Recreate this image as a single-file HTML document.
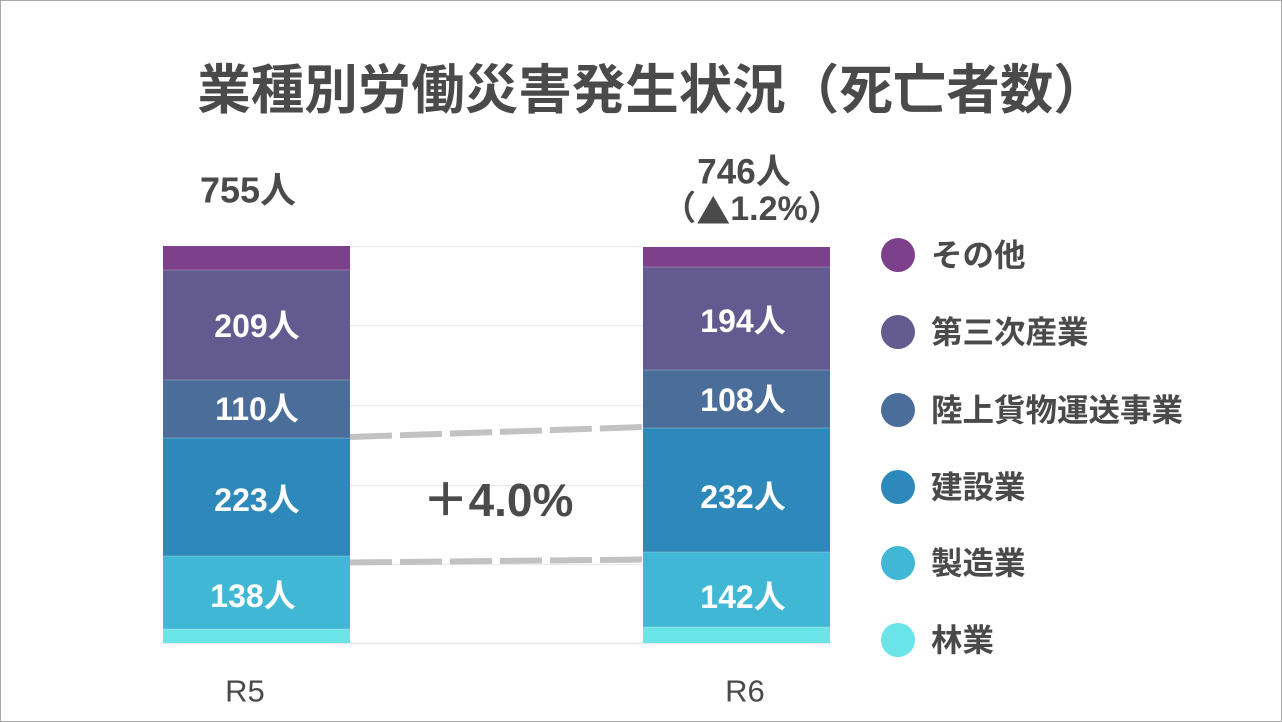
<!DOCTYPE html>
<html>
<head>
<meta charset="utf-8">
<style>
  html, body { margin:0; padding:0; background:#fff; }
  body { width:1282px; height:722px; overflow:hidden; }
  svg { display:block; }
  text { font-family: "Liberation Sans", "Noto Sans CJK JP", sans-serif; }
</style>
</head>
<body>
<svg width="1282" height="722" viewBox="0 0 1282 722" xmlns="http://www.w3.org/2000/svg">
  <rect x="0.5" y="0.5" width="1281" height="721" fill="#fff" stroke="#a8a8a8" stroke-width="1"/>

  <!-- Title -->
  <text x="652" y="91" text-anchor="middle" dominant-baseline="central" font-size="53.5" font-weight="bold" fill="#4a4a4a" font-family="Noto Sans CJK JP, sans-serif">業種別労働災害発生状況（死亡者数）</text>

  <!-- Totals -->
  <text x="248" y="190" text-anchor="middle" dominant-baseline="central" font-size="36" font-weight="bold" fill="#4a4a4a">755人</text>
  <text x="744" y="172" text-anchor="middle" dominant-baseline="central" font-size="35" font-weight="bold" fill="#4a4a4a">746人</text>
  <text x="752" y="209" text-anchor="middle" dominant-baseline="central" font-size="34" font-weight="bold" fill="#4a4a4a">（<tspan font-family="Noto Sans CJK JP, sans-serif">▲</tspan>1.2%）</text>

  <!-- gridlines -->
  <g stroke="#ebebeb" stroke-width="1.2">
    <line x1="350" y1="246.5" x2="643" y2="246.5"/>
    <line x1="350" y1="325.5" x2="643" y2="325.5"/>
    <line x1="350" y1="405.5" x2="643" y2="405.5"/>
    <line x1="350" y1="485.5" x2="643" y2="485.5"/>
    <line x1="350" y1="564.5" x2="643" y2="564.5"/>
    <line x1="163" y1="643.5" x2="830" y2="643.5" stroke="#eaeaea" stroke-width="2"/>
  </g>

  <!-- Left bar R5 -->
  <rect x="163" y="246" width="187" height="24" fill="#7c418a"/>
  <rect x="163" y="270" width="187" height="110" fill="#635a8f"/>
  <rect x="163" y="380" width="187" height="58" fill="#4b6d99"/>
  <rect x="163" y="438" width="187" height="118" fill="#2c89b9"/>
  <rect x="163" y="556" width="187" height="73" fill="#41b7d6"/>
  <rect x="163" y="629" width="187" height="14" fill="#6ae4e6"/>

  <!-- Right bar R6 -->
  <rect x="643" y="247" width="187" height="20" fill="#7c418a"/>
  <rect x="643" y="267" width="187" height="103" fill="#635a8f"/>
  <rect x="643" y="370" width="187" height="58" fill="#4b6d99"/>
  <rect x="643" y="428" width="187" height="124" fill="#2c89b9"/>
  <rect x="643" y="552" width="187" height="75" fill="#41b7d6"/>
  <rect x="643" y="627" width="187" height="16" fill="#6ae4e6"/>

  <!-- separators -->
  <g stroke="#ffffff" stroke-opacity="0.25" stroke-width="1">
    <line x1="163" y1="270" x2="350" y2="270"/>
    <line x1="163" y1="380" x2="350" y2="380"/>
    <line x1="163" y1="438" x2="350" y2="438"/>
    <line x1="163" y1="556" x2="350" y2="556"/>
    <line x1="163" y1="629" x2="350" y2="629"/>
    <line x1="643" y1="267" x2="830" y2="267"/>
    <line x1="643" y1="370" x2="830" y2="370"/>
    <line x1="643" y1="428" x2="830" y2="428"/>
    <line x1="643" y1="552" x2="830" y2="552"/>
    <line x1="643" y1="627" x2="830" y2="627"/>
  </g>

  <!-- dashed connectors -->
  <g stroke="#c2c2c2" stroke-width="6" stroke-dasharray="42 8">
    <line x1="350" y1="437" x2="643" y2="427"/>
    <line x1="350" y1="562.5" x2="643" y2="559.5"/>
  </g>

  <!-- bar labels -->
  <g font-size="32" font-weight="bold" fill="#ffffff" text-anchor="middle" dominant-baseline="central">
    <text x="257" y="326">209人</text>
    <text x="257" y="409">110人</text>
    <text x="257" y="500">223人</text>
    <text x="253" y="596">138人</text>
    <text x="743" y="321">194人</text>
    <text x="743" y="400">108人</text>
    <text x="743" y="497">232人</text>
    <text x="743" y="597">142人</text>
  </g>

  <!-- change label -->
  <text x="498" y="500" text-anchor="middle" dominant-baseline="central" font-size="46" font-weight="bold" fill="#4a4a4a">＋4.0%</text>

  <!-- x labels -->
  <text x="245" y="691" text-anchor="middle" dominant-baseline="central" font-size="31" fill="#4a4a4a">R5</text>
  <text x="745" y="691" text-anchor="middle" dominant-baseline="central" font-size="31" fill="#4a4a4a">R6</text>

  <!-- legend -->
  <g>
    <circle cx="898" cy="255" r="17" fill="#7c418a"/>
    <circle cx="898" cy="332" r="17" fill="#635a8f"/>
    <circle cx="898" cy="410" r="17" fill="#4b6d99"/>
    <circle cx="898" cy="487" r="17" fill="#2c89b9"/>
    <circle cx="898" cy="563" r="17" fill="#41b7d6"/>
    <circle cx="898" cy="640" r="17" fill="#6ae4e6"/>
  </g>
  <g font-size="31.5" font-weight="bold" fill="#4a4a4a" dominant-baseline="central" font-family="Noto Sans CJK JP, sans-serif">
    <text x="931" y="255">その他</text>
    <text x="931" y="332">第三次産業</text>
    <text x="931" y="410">陸上貨物運送事業</text>
    <text x="931" y="487">建設業</text>
    <text x="931" y="563">製造業</text>
    <text x="931" y="640">林業</text>
  </g>
</svg>
</body>
</html>
